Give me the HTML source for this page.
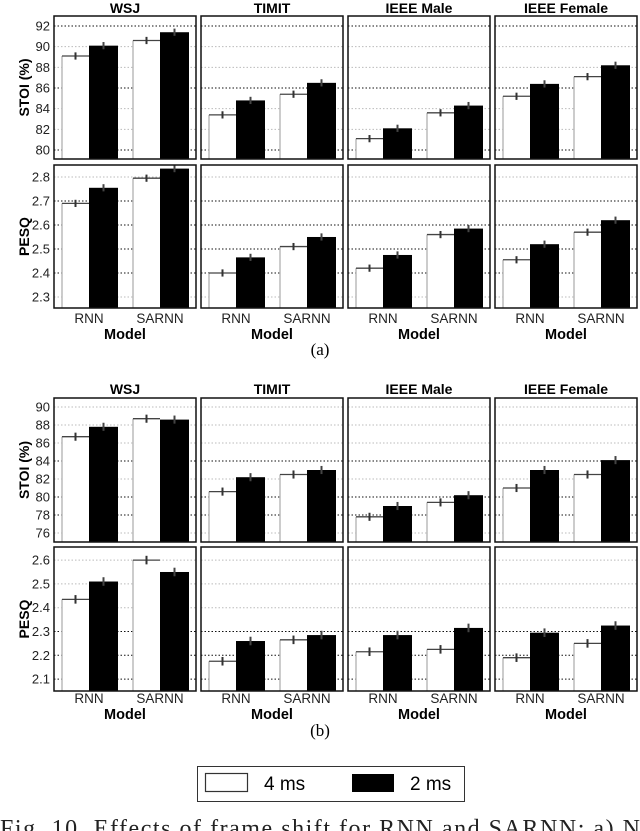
<!DOCTYPE html>
<html><head><meta charset="utf-8"><style>
body{margin:0;background:#fff;width:640px;height:831px;overflow:hidden}
svg{display:block;font-family:"Liberation Sans",Arial,sans-serif}
</style></head><body>
<svg id="c" width="640" height="831"></svg>
<script>
const datasets=["WSJ","TIMIT","IEEE Male","IEEE Female"];
const models=["RNN","SARNN"];
// values [dataset][model] for 4 ms and 2 ms
const aStoi4=[[89.1,90.6],[83.4,85.4],[81.1,83.6],[85.2,87.1]];
const aStoi2=[[90.1,91.4],[84.8,86.5],[82.1,84.3],[86.4,88.2]];
const aPesq4=[[2.69,2.795],[2.40,2.51],[2.42,2.56],[2.455,2.57]];
const aPesq2=[[2.755,2.835],[2.465,2.55],[2.475,2.585],[2.52,2.62]];
const bStoi4=[[86.7,88.7],[80.6,82.5],[77.8,79.4],[81.0,82.5]];
const bStoi2=[[87.8,88.6],[82.2,83.0],[79.0,80.2],[83.0,84.1]];
const bPesq4=[[2.435,2.60],[2.175,2.265],[2.215,2.225],[2.19,2.25]];
const bPesq2=[[2.51,2.55],[2.26,2.285],[2.285,2.315],[2.295,2.325]];
const aStoiTicks=[80,82,84,86,88,90,92];
const aPesqTicks=[2.3,2.4,2.5,2.6,2.7,2.8];
const bStoiTicks=[76,78,80,82,84,86,88,90];
const bPesqTicks=[2.1,2.2,2.3,2.4,2.5,2.6];

const NS="http://www.w3.org/2000/svg";
const svg=document.getElementById('c');
function el(tag,attrs,parent){const e=document.createElementNS(NS,tag);for(const k in attrs)e.setAttribute(k,attrs[k]);(parent||svg).appendChild(e);return e;}
const panelX=[54,201,348,495], PW=142;

function drawRow(y0,y1,vmin,vmax,ticks,major,v4,v2,err,title,fmt,prefix){
  const H=y1-y0;
  const ys=v=>y1-(v-vmin)/(vmax-vmin)*H;
  const g=el('g',{});
  
  
  ticks.forEach(t=>{
    const tx=el('text',{x:50,y:ys(t)+4.5,'font-size':13,'text-anchor':'end',fill:'#222'},g);
    tx.textContent=fmt(t);
    
    
  });
  const yt=el('text',{x:0,y:0,'font-size':14,'font-weight':'bold','text-anchor':'middle',transform:`translate(29,${(y0+y1)/2}) rotate(-90)`},g);
  yt.textContent=title;
  
  
  for(let d=0;d<4;d++){
    const px=panelX[d];
    const p=el('g',{},g);
    
    
    const cp=el('clipPath',{id:prefix+'cl'+d},p);
    el('rect',{x:px,y:y0,width:PW,height:H},cp);
    ticks.forEach(t=>{
      const isMaj=major.includes(t);
      el('line',{x1:px,x2:px+PW,y1:ys(t),y2:ys(t),stroke:isMaj?'#111':'#bbb','stroke-width':1,'stroke-dasharray':'1.5,2'},p);
    });
    const cg=el('g',{'clip-path':`url(#${prefix}cl${d})`},p);
    const offs=[8,79];
    for(let m=0;m<2;m++){
      const bx=px+offs[m];
      const w4=v4[d][m], w2=v2[d][m];
      const b1=el('rect',{x:bx,y:ys(w4),width:27,height:y1-ys(w4)+5,fill:'#fff'},cg);
      
      
      el('line',{x1:bx,x2:bx,y1:ys(w4),y2:y1+2,stroke:'#bbb','stroke-width':1.5},cg);
      el('line',{x1:bx,x2:bx+27,y1:ys(w4),y2:ys(w4),stroke:'#444','stroke-width':1.3},cg);
      const b2=el('rect',{x:bx+27,y:ys(w2),width:29,height:y1-ys(w2)+5,fill:'#000'},cg);
      
      
      el('line',{x1:bx+13.5,x2:bx+13.5,y1:ys(w4+err),y2:ys(w4-err),stroke:'#333','stroke-width':2},cg);
      el('line',{x1:bx+41.5,x2:bx+41.5,y1:ys(w2+err),y2:ys(w2-err),stroke:'#444','stroke-width':2},cg);
    }
    el('rect',{x:px,y:y0,width:PW,height:H,fill:'none',stroke:'#111','stroke-width':1.5},p);
  }
}
function titles(y){
  datasets.forEach((d,i)=>{
    const t=el('text',{x:panelX[i]+PW/2,y:y,'font-size':14,'font-weight':'bold','text-anchor':'middle'});
    t.textContent=d;
    
    
  });
}
function xlabels(y){
  for(let i=0;i<4;i++){
    [0,1].forEach(m=>{
      const t=el('text',{x:panelX[i]+(m?106:35),y:y,'font-size':13.5,'text-anchor':'middle',fill:'#222'});
      t.textContent=models[m];
      
      
    });
    const t=el('text',{x:panelX[i]+PW/2,y:y+16,'font-size':14.5,'font-weight':'bold','text-anchor':'middle'});
    t.textContent='Model';
    
    
  }
}
const f0=t=>String(t), f1=t=>t.toFixed(1);
titles(13);
drawRow(16,159,79.13,92.97,aStoiTicks,[80,86,92],aStoi4,aStoi2,0.35,'STOI (%)',f0,'a-stoi');
drawRow(165,308,2.254,2.85,aPesqTicks,[2.4,2.5,2.6,2.7],aPesq4,aPesq2,0.015,'PESQ',f1,'a-pesq');
xlabels(323);
let t=el('text',{x:320,y:355,'font-size':17,'text-anchor':'middle','font-family':'Liberation Serif,serif'});t.textContent='(a)';


titles(394);
drawRow(398,542,75.0,91.0,bStoiTicks,[78,80,84],bStoi4,bStoi2,0.45,'STOI (%)',f0,'b-stoi');
drawRow(547,691,2.05,2.655,bPesqTicks,[2.1,2.2,2.3],bPesq4,bPesq2,0.018,'PESQ',f1,'b-pesq');
xlabels(703);
t=el('text',{x:320,y:736,'font-size':17,'text-anchor':'middle','font-family':'Liberation Serif,serif'});t.textContent='(b)';


// legend
const lg=el('g',{});


el('rect',{x:197.5,y:766.5,width:267,height:35,fill:'#fff',stroke:'#333','stroke-width':1},lg);
el('rect',{x:205.5,y:773.5,width:42,height:18,fill:'#fff',stroke:'#333','stroke-width':1.2},lg);
t=el('text',{x:264,y:790,'font-size':19},lg);t.textContent='4 ms';


el('rect',{x:352,y:774,width:42,height:18,fill:'#000'},lg);
t=el('text',{x:410,y:790,'font-size':19},lg);t.textContent='2 ms';


t=el('text',{x:0,y:836,'font-size':24,'font-family':'Liberation Serif,serif',fill:'#222',textLength:640,lengthAdjust:'spacing'});
t.textContent='Fig. 10. Effects of frame shift for RNN and SARNN: a) N';


</script>
</body></html>
